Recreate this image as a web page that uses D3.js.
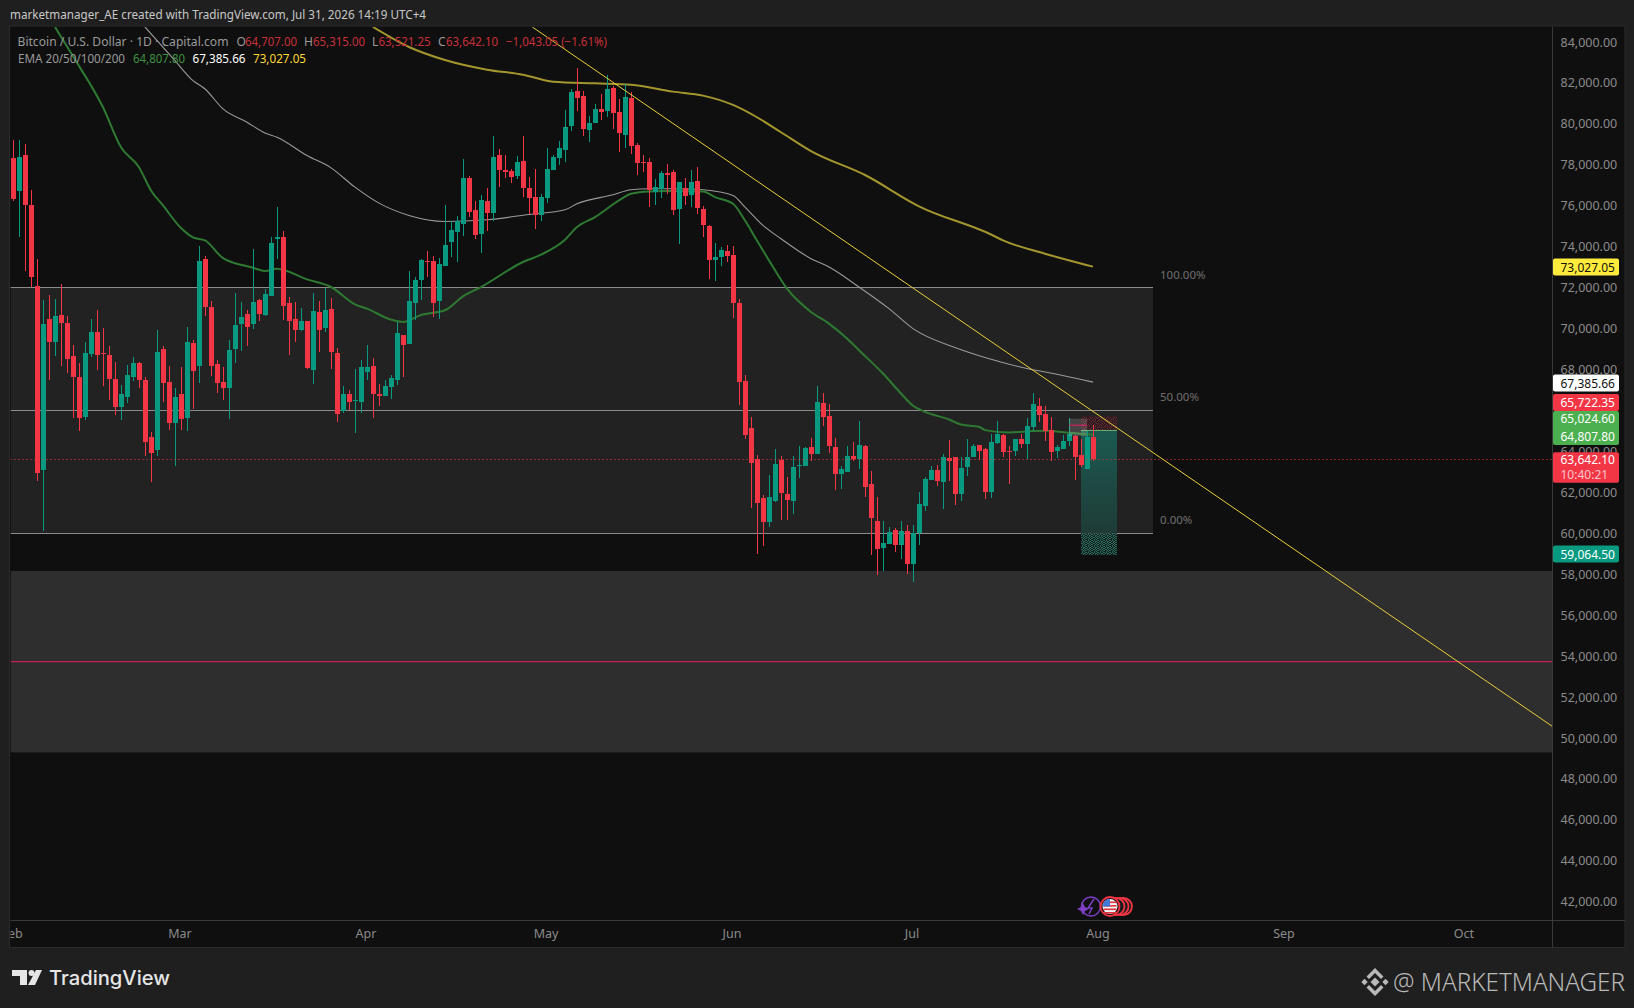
<!DOCTYPE html>
<html lang="en">
  <head>
    <meta charset="utf-8">
    <title>BTCUSD 1D</title>
    <style type="text/css">
      html, body{
        margin: 0;
        padding: 0;
        background: #1f1f1f;
        overflow: hidden;
      }
      svg{
        display: block;
      }
      text{
        font-family: "Noto Sans", "Open Sans", sans-serif;
      }
      .tick text{
        font-family: "Noto Sans", "Open Sans", sans-serif;
      }
    </style>
    <script src="https://cdn.jsdelivr.net/npm/d3@7"></script>
  </head>
  <body>
    <div id="chart"></div>

    <script type="text/javascript">
      //daily candles, starting at Feb 1
      var opens = [
        78325,76699,78504,76016,72065,63105,70455,69333,70650,70260,
        68650,67626,65674,68748,69821,68796,68699,67528,66162,66650,
        67626,68309,67480,64699,64065,68991,67382,65382,66796,65626,
        69284,68162,73382,71040,68260,67382,67089,68991,70211,70699,
        70211,71382,70650,71577,74357,74455,71235,70455,69918,70358,
        67967,70796,70016,70943,68796,65967,66796,66455,66406,67870,
        68162,66796,66699,67138,67480,69675,69235,71235,72357,73284,
        73284,71333,73040,74211,74699,75089,77333,75772,74601,76211,
        75626,78504,77772,77675,77431,78211,76845,76406,75528,76357,
        77772,78357,78748,79918,81626,81382,79723,80065,80748,80650,
        81772,80601,79479,81284,78992,78162,78162,76650,76796,77577,
        77626,75821,76845,76504,77187,75821,74992,73333,73479,73772,
        73577,71235,67431,65138,63626,61723,60553,61577,63577,61919,
        61577,63284,63284,64211,63870,66357,65723,64211,62894,62992,
        63772,63626,64260,62406,60601,59284,59479,60162,59431,60113,
        58504,60000,61333,62601,63089,62504,63675,63723,61919,63236,
        63723,64309,64114,62016,64406,64797,64016,64016,64601,64358,
        65187,66211,65821,65040,64016,64114,64504,64748,63821,63138,64707
      ];
      var highs = [
        79219,79219,79024,76780,73414,71382,71626,71431,72162,70601,
        69187,68309,69333,70455,70894,70016,69138,68357,67236,68211,
        68601,68357,67626,64943,69918,69138,68162,67089,68113,70065,
        69431,74016,73528,71333,68455,68113,69431,71723,71284,70894,
        73870,71431,71918,74455,75918,74748,71528,71284,70992,70358,
        71723,71333,71967,71479,69040,67187,66992,68016,68455,69187,
        68553,67284,67480,67723,70309,69675,72797,72504,73382,73772,
        73528,73431,76016,75235,75479,78309,77479,76211,76504,76845,
        79431,78796,78504,77821,78455,79431,77382,77821,76553,78845,
        78504,79187,80699,81723,82748,81626,80406,80992,81479,82406,
        81870,81235,81967,81577,79089,78504,78357,77284,77723,78065,
        77772,77138,77333,77772,77918,75967,75040,74162,73967,74065,
        74016,71431,67723,65674,63821,61870,62846,64114,63772,62748,
        63772,64260,64211,64650,67187,66846,66309,64650,63284,64260,
        64455,65479,64309,63040,61772,60601,60309,60260,60601,60406,
        60406,62016,62748,63284,63333,63870,64553,63723,63723,64601,
        64358,64309,64162,64845,65479,64845,64260,64601,64845,65626,
        66846,66601,66211,65674,64309,64797,65626,64797,64601,64991,65315
      ];
      var lows = [
        76211,74471,72813,72032,62569,60113,67480,68650,68162,67821,
        65626,64991,65528,68601,67967,67187,66504,65772,65528,66357,
        67431,67089,63772,62488,63772,66406,65040,63284,65040,64991,
        66065,67333,70601,67675,66846,66504,65577,68309,68894,69138,
        69967,70358,70601,71577,73382,70406,68699,69333,69870,68016,
        67284,68845,69821,68016,65431,65870,66016,64894,65870,67480,
        65626,66211,66699,66552,67236,67626,69235,70406,71382,72504,
        70553,70455,73040,73479,73235,74504,75431,74357,73675,74748,
        75235,76894,77333,77089,77284,76406,75577,74845,75235,76113,
        77772,78016,78162,79675,80650,79431,79138,80065,80211,80357,
        79772,78650,78845,78553,77528,77626,75918,76016,76357,76553,
        75528,74114,76016,75918,75577,74455,72406,72309,73040,73235,
        70504,66260,64602,61235,58992,59382,60309,61528,60650,60650,
        60943,62699,63284,63528,63870,65235,63918,62114,62162,62992,
        63528,63138,61772,58943,57967,58162,59479,59089,58748,58016,
        57626,59431,61089,62601,62309,61187,62553,61382,61577,62796,
        63723,63577,61675,61723,64358,63723,62406,63772,64162,63626,
        64991,65431,64504,63528,63675,64114,64260,62601,63236,63138,63521.25
      ];
      var closes = [
        76309,78406,76016,72504,62959,70211,69333,70601,70260,68504,
        67626,65626,68796,69821,68699,68748,67528,66162,66796,67723,
        68309,67480,64455,63918,68845,67333,65382,66650,65577,69333,
        67918,73284,71040,68162,67333,67089,68943,70162,70553,70065,
        71284,70699,71675,74162,74455,71089,70358,69918,70358,68065,
        70845,69918,70894,68845,65821,66796,66406,66504,68113,68113,
        66796,66699,67187,67577,69772,69187,71333,72357,73333,73235,
        71235,73138,74065,74796,75235,77333,75675,74553,76260,75626,
        78406,77772,77626,77382,78162,76845,76357,75528,76406,77821,
        78406,78845,79870,81577,81284,79772,80065,80748,80601,81723,
        80553,79577,81333,78943,78113,78113,76748,76894,77577,77528,
        75772,77138,76455,77138,75870,75040,73333,73479,73821,73528,
        71235,67382,64797,63431,61480,60553,61772,63382,61967,61626,
        63236,63333,64162,63870,66406,65674,64260,62894,63138,63772,
        63626,64309,62260,60748,59236,59528,60065,59431,60113,58504,
        60000,61431,62650,63089,62553,63723,63528,61919,63187,63723,
        64260,64016,62016,64455,64845,63967,63967,64601,64358,65235,
        66309,65772,64991,63967,64211,64504,64845,63723,63333,64707,63642.1
      ];

      //EMA curves: day number since Feb 1, then price
      var ema50Days = [7,10,15,18,21,23,25,28,30,32,35,40,42,44,49,53,57,59,63,65,68,72,75,78,85,88,92,94,97,101,103,106,109,115,117,120,122,124,126,129,133,136,139,141,145,148,150,152,156,158,161,162,166,170,172,176,180];
      var ema50Vals = [84734,83300,80813,78861,77886,76748,76016,74910,74455,74309,73447,72975,72813,72927,72406,72032,71187,70975,70439,70325,70667,70894,71577,72032,73252,73610,74341,74959,75447,76260,76585,76699,76716,76699,76423,76097,75284,74300,73333,71951,70813,70244,69512,68943,67805,66829,66228,65935,65561,65317,65203,65041,64927,64992,65008,64911,64807.8];
      var ema100Days = [22,27,30,32,35,39,42,44,49,53,57,61,66,72,79,86,92,94,100,103,106,111,115,120,122,125,128,133,136,141,146,150,157,162,169,174,180];
      var ema100Vals = [84734,83089,82113,81707,80731,80081,79560,79349,78455,77853,76910,76130,75528,75235,75316,75577,75805,76097,76536,76780,76829,76829,76780,76504,75935,75040,74390,73415,73008,72033,70976,70000,69073,68585,68049,67772,67385.66];
      var ema200Days = [60,66,72,79,85,90,97,103,110,115,120,124,128,133,142,151,163,165,172,180];
      var ema200Vals = [84734,83757,83121,82650,82406,82065,81983,81918,81577,81382,80926,80325,79593,78671,77503,75975,74597,74309,73659,73027.05];

      //yellow trend line
      var trendDays = [86.55, 256.55];
      var trendVals = [84734, 50570];

      //tick labels, 66,000 sits behind the price tags so it is not in the list
      var priceTicks = [42000,44000,46000,48000,50000,52000,54000,56000,58000,60000,62000,64000,68000,70000,72000,74000,76000,78000,80000,82000,84000];
      var monthTicks = [0,28,59,89,120,150,181,212,242];
      var monthNames = ["Feb","Mar","Apr","May","Jun","Jul","Aug","Sep","Oct"];

      //range box, zone and position levels
      var rangeLevels = [72000, 66000, 60000];
      var rangeLabels = ["100.00%", "50.00%", "0.00%"];
      var rangeEndDay = 190;
      var zoneTop = 58158;
      var zoneBottom = 49297;
      var zoneLine = 53727;
      var posDays = [178, 184];
      var stopPrice = 65722.35;
      var entryPrice = 65024.60;
      var targetPrice = 59064.50;
      var posBottom = 58950;

      var width = 1634;
      var height = 1008;
      var plot = {left: 10.5, right: 1552.5, top: 27, bottom: 920.5, axisBottom: 947.5, frameRight: 1625};

      var red = "#f23645";
      var green = "#089981";

      var xScale = d3.scaleLinear().domain([0, 257]).range([13, 13 + 257 * 6]);
      var yScale = d3.scaleLinear().domain([60000, 84000]).range([533.3, 533.3 - 24 * 20.47]);

      var svg = d3.select("#chart").append("svg")
        .attr("width", width)
        .attr("height", height);

      var defs = svg.append("defs");
      defs.append("clipPath").attr("id", "plotClip").append("rect")
        .attr("x", plot.left).attr("y", plot.top)
        .attr("width", plot.right - plot.left).attr("height", plot.bottom - plot.top);
      defs.append("clipPath").attr("id", "axisClip").append("rect")
        .attr("x", plot.left).attr("y", plot.bottom)
        .attr("width", plot.right - plot.left).attr("height", plot.axisBottom - plot.bottom);

      //dither used by the position tool where it is drawn on the dark bands
      function ditherPattern(id, base, color, cells){
        var p = defs.append("pattern").attr("id", id)
          .attr("width", 6).attr("height", 6)
          .attr("patternUnits", "userSpaceOnUse");
        p.append("rect").attr("width", 6).attr("height", 6).attr("fill", base);
        cells.forEach(c => {
          p.append("rect").attr("x", c[0]).attr("y", c[1])
            .attr("width", 1).attr("height", 1).attr("fill", color);
        });
      }
      ditherPattern("ditherGreen", "#10201d", "#2c6a5e",
        [[0,0],[2,0],[5,0],[1,1],[3,1],[4,1],[0,2],[3,2],[5,2],[1,3],[2,3],[4,3],[0,4],[3,4],[5,4],[2,5],[4,5]]);
      ditherPattern("ditherRed", "#2c1c1f", "#6a2a33",
        [[0,0],[3,0],[1,1],[5,1],[3,2],[0,3],[4,3],[2,4],[5,4],[1,5],[3,5]]);

      var posGradient = defs.append("linearGradient").attr("id", "posFill")
        .attr("x1", 0).attr("y1", 0).attr("x2", 0).attr("y2", 1);
      posGradient.append("stop").attr("offset", 0).attr("stop-color", "#1b5a50");
      posGradient.append("stop").attr("offset", 1).attr("stop-color", "#1f3b37");

      //frame and panels
      svg.append("rect").attr("width", width).attr("height", height).attr("fill", "#1f1f1f");
      svg.append("rect")
        .attr("x", plot.left - 1).attr("y", plot.top - 1)
        .attr("width", plot.frameRight - plot.left + 1).attr("height", plot.axisBottom - plot.top + 1)
        .attr("fill", "#0f0f0f")
        .attr("stroke", "#2b2b2b");

      var chart = svg.append("g").attr("clip-path", "url(#plotClip)");

      //grey zone with its pink line
      chart.append("rect")
        .attr("x", plot.left).attr("width", plot.right - plot.left)
        .attr("y", yScale(zoneTop)).attr("height", yScale(zoneBottom) - yScale(zoneTop))
        .attr("fill", "#2e2e2e");
      chart.append("line")
        .attr("x1", plot.left).attr("x2", plot.right)
        .attr("y1", yScale(zoneLine)).attr("y2", yScale(zoneLine))
        .attr("stroke", "#e91e63");

      //fib range box
      chart.append("rect")
        .attr("x", plot.left).attr("width", xScale(rangeEndDay) - plot.left)
        .attr("y", yScale(rangeLevels[0])).attr("height", yScale(rangeLevels[2]) - yScale(rangeLevels[0]))
        .attr("fill", "#222222");
      chart.selectAll(".rangeLine")
        .data(rangeLevels)
        .enter()
        .append("line")
        .attr("class", "rangeLine")
        .attr("x1", plot.left).attr("x2", xScale(rangeEndDay))
        .attr("y1", d => Math.floor(yScale(d)) + 0.5)
        .attr("y2", d => Math.floor(yScale(d)) + 0.5)
        .attr("stroke", "#8c8c8c");
      chart.selectAll(".rangeLabel")
        .data(rangeLevels)
        .enter()
        .append("text")
        .attr("class", "rangeLabel")
        .attr("x", xScale(rangeEndDay) + 7)
        .attr("y", d => yScale(d) - 9)
        .attr("fill", "#6f6f6f")
        .style("font-size", "11.5px")
        .text((d, i) => rangeLabels[i]);

      //position tool
      var posX = xScale(posDays[0]);
      var posW = xScale(posDays[1]) - posX;
      chart.append("rect").attr("x", posX).attr("width", posW)
        .attr("y", yScale(stopPrice)).attr("height", yScale(entryPrice) - yScale(stopPrice))
        .attr("fill", "url(#ditherRed)");
      chart.append("rect").attr("x", posX).attr("width", posW)
        .attr("y", yScale(entryPrice)).attr("height", yScale(rangeLevels[2]) - yScale(entryPrice))
        .attr("fill", "url(#posFill)");
      chart.append("rect").attr("x", posX).attr("width", posW)
        .attr("y", yScale(rangeLevels[2])).attr("height", yScale(posBottom) - yScale(rangeLevels[2]))
        .attr("fill", "url(#ditherGreen)");
      chart.append("line")
        .attr("x1", posX).attr("x2", posX + posW)
        .attr("y1", yScale(entryPrice)).attr("y2", yScale(entryPrice))
        .attr("stroke", "#6fae6f");

      //EMA lines
      function emaLine(days, vals, color, lineWidth){
        var line = d3.line()
          .x((d, i) => xScale(days[i]))
          .y(d => yScale(d))
          .curve(d3.curveMonotoneX);
        chart.append("path")
          .attr("d", line(vals))
          .attr("fill", "none")
          .attr("stroke", color)
          .attr("stroke-width", lineWidth);
      }
      emaLine(ema100Days, ema100Vals, "#9a9a9a", 1.1);
      emaLine(ema50Days, ema50Vals, "#2e7a32", 2);
      emaLine(ema200Days, ema200Vals, "#a3962e", 2);

      //candles
      var candles = chart.append("g").attr("shape-rendering", "crispEdges");
      candles.selectAll(".wick")
        .data(opens)
        .enter()
        .append("rect")
        .attr("class", "wick")
        .attr("x", (d, i) => Math.round(xScale(i)) - 0.5)
        .attr("width", 1)
        .attr("y", (d, i) => yScale(highs[i]))
        .attr("height", (d, i) => yScale(lows[i]) - yScale(highs[i]))
        .attr("fill", (d, i) => closes[i] >= d ? green : red);
      candles.selectAll(".body")
        .data(opens)
        .enter()
        .append("rect")
        .attr("class", "body")
        .attr("x", (d, i) => Math.round(xScale(i)) - 2.5)
        .attr("width", 5)
        .attr("y", (d, i) => yScale(Math.max(d, closes[i])))
        .attr("height", (d, i) => Math.max(1, Math.abs(yScale(d) - yScale(closes[i]))))
        .attr("fill", (d, i) => closes[i] >= d ? green : red);

      //small grey marker on the left of the position
      chart.append("rect").attr("x", xScale(176)).attr("width", xScale(179) - xScale(176))
        .attr("y", yScale(65600)).attr("height", yScale(64750) - yScale(65600))
        .attr("fill", "#ffffff").attr("opacity", 0.16);
      chart.append("line").attr("x1", xScale(176)).attr("x2", xScale(179))
        .attr("y1", yScale(65280)).attr("y2", yScale(65280))
        .attr("stroke", "#e91e63");

      //current price dotted line
      var lastY = Math.round(yScale(closes[closes.length - 1])) + 0.5;
      chart.append("line")
        .attr("x1", plot.left).attr("x2", plot.right)
        .attr("y1", lastY).attr("y2", lastY)
        .attr("stroke", red)
        .attr("stroke-dasharray", "1 3");

      //trend line
      chart.append("line")
        .attr("x1", xScale(trendDays[0])).attr("x2", xScale(trendDays[1]))
        .attr("y1", yScale(trendVals[0])).attr("y2", yScale(trendVals[1]))
        .attr("stroke", "#e8cf3a");

      //event markers above the time axis
      var events = svg.append("g");
      [1123.5, 1120, 1116].forEach(x => {
        events.append("circle").attr("cx", x).attr("cy", 906.5).attr("r", 8.5)
          .attr("fill", "#1a1a1a").attr("stroke", red).attr("stroke-width", 1.8);
      });
      events.append("circle").attr("cx", 1091).attr("cy", 906.5).attr("r", 9.5)
        .attr("fill", "none").attr("stroke", "#7e3fc4").attr("stroke-width", 1.5);
      events.append("path").attr("d", "M1094 899 L1088 908 L1092 908 L1089 914")
        .attr("fill", "none").attr("stroke", "#7e3fc4").attr("stroke-width", 1.5);
      events.append("path").attr("d", "M1083 903 L1085 907 L1089 909 L1085 911 L1083 915 L1081 911 L1077 909 L1081 907 Z")
        .attr("fill", "#7e3fc4");
      events.append("circle").attr("cx", 1110).attr("cy", 906.5).attr("r", 9.5)
        .attr("fill", "#111").attr("stroke", red).attr("stroke-width", 1.8);
      events.append("circle").attr("cx", 1110).attr("cy", 906.5).attr("r", 7.5).attr("fill", "#f4f4f4");
      [901.5, 905, 908.5, 912].forEach(y => {
        events.append("rect").attr("x", 1103.5).attr("y", y).attr("width", 13).attr("height", 1.6).attr("fill", "#e0343f");
      });
      events.append("path").attr("d", "M1103.5 903 A7.5 7.5 0 0 1 1110 899 L1110 906.5 L1102.6 906.5 Z").attr("fill", "#3f78d8");

      //axes
      svg.append("line").attr("x1", plot.right).attr("x2", plot.right)
        .attr("y1", plot.top).attr("y2", plot.axisBottom).attr("stroke", "#3a3a3a");
      svg.append("line").attr("x1", plot.left).attr("x2", plot.frameRight)
        .attr("y1", plot.bottom).attr("y2", plot.bottom).attr("stroke", "#3a3a3a");

      var yAxis = svg.append("g")
        .attr("transform", "translate(" + plot.right + ",0)")
        .call(d3.axisRight(yScale).tickValues(priceTicks).tickSize(0).tickPadding(8).tickFormat(d3.format(",.2f")));
      yAxis.select(".domain").remove();
      yAxis.selectAll("text").attr("fill", "#8b8b8b").style("font-size", "12.5px");

      var xAxis = svg.append("g")
        .attr("clip-path", "url(#axisClip)")
        .append("g")
        .attr("transform", "translate(-1.5," + plot.bottom + ")")
        .call(d3.axisBottom(xScale).tickValues(monthTicks).tickSize(0).tickPadding(9).tickFormat((d, i) => monthNames[i]));
      xAxis.select(".domain").remove();
      xAxis.selectAll("text").attr("fill", "#8b8b8b").style("font-size", "12.5px");

      //price labels on the axis
      var fmt = d3.format(",.2f");
      function priceTag(y, h, color){
        svg.append("rect")
          .attr("x", plot.right + 0.5).attr("y", y - h / 2)
          .attr("width", 66).attr("height", h)
          .attr("rx", 2)
          .attr("fill", color);
      }
      function tagText(y, s, color){
        svg.append("text")
          .attr("x", plot.right + 8).attr("y", y)
          .attr("fill", color)
          .style("font-size", "12px")
          .text(s);
      }
      priceTag(267, 17, "#ffeb3b");
      tagText(271.5, fmt(ema200Vals[ema200Vals.length - 1]), "#111");
      priceTag(383, 17, "#ffffff");
      tagText(387.5, fmt(ema100Vals[ema100Vals.length - 1]), "#111");
      priceTag(402.5, 17, red);
      tagText(407, fmt(stopPrice), "#fff");
      priceTag(428, 34, "#4caf50");
      tagText(423, fmt(entryPrice), "#fff");
      tagText(441, fmt(ema50Vals[ema50Vals.length - 1]), "#fff");
      priceTag(467.5, 30.5, red);
      tagText(464, fmt(closes[closes.length - 1]), "#fff");
      tagText(478.5, "10:40:21", "#f9c4c9");
      priceTag(554, 17, green);
      tagText(558.5, fmt(targetPrice), "#fff");

      //header and legend
      function label(x, y, s, color, size, len){
        var t = svg.append("text")
          .attr("x", x).attr("y", y)
          .attr("fill", color)
          .style("font-size", size + "px")
          .text(s);
        if(len){
          t.attr("textLength", len).attr("lengthAdjust", "spacingAndGlyphs");
        }
        return t;
      }
      label(10, 18.5, "marketmanager_AE created with TradingView.com, Jul 31, 2026 14:19 UTC+4", "#c8c8c8", 12, 416);

      label(17.5, 46, "Bitcoin / U.S. Dollar · 1D · Capital.com", "#9a9a9a", 12, 211);
      var ohlcGrey = "#9a9a9a";
      var ohlcRed = "#c92f3b";
      label(236.5, 46, "O", ohlcGrey, 12);
      label(245, 46, "64,707.00", ohlcRed, 12, 52);
      label(304, 46, "H", ohlcGrey, 12);
      label(313, 46, "65,315.00", ohlcRed, 12, 52);
      label(372, 46, "L", ohlcGrey, 12);
      label(378.5, 46, "63,521.25", ohlcRed, 12, 52);
      label(438, 46, "C", ohlcGrey, 12);
      label(446, 46, "63,642.10", ohlcRed, 12, 52);
      label(506, 46, "−1,043.05 (−1.61%)", ohlcRed, 12, 101);
      label(18, 63, "EMA 20/50/100/200", "#9a9a9a", 12, 107);
      label(133, 63, "64,807.80", "#3e9142", 12, 52);
      label(192.5, 63, "67,385.66", "#ffffff", 12, 53);
      label(253, 63, "73,027.05", "#fdd835", 12, 53);

      //TradingView logo
      var logo = svg.append("g").attr("fill", "#e6e6e6");
      logo.append("path").attr("d", "M12 970 H27 V985 H20 V976 H12 Z");
      logo.append("circle").attr("cx", 31.5).attr("cy", 973).attr("r", 3);
      logo.append("path").attr("d", "M36 970 H42 L35 985 H28 Z");
      label(49, 984.5, "TradingView", "#e6e6e6", 20, 121).style("font-family", "Inter").style("font-weight", 500);

      //bottom right watermark, binance style mark
      var mark = svg.append("g").attr("fill", "#b9b9b9");
      function diamond(cx, cy, r){
        mark.append("path").attr("d", "M" + (cx - r) + " " + cy + " L" + cx + " " + (cy - r) + " L" + (cx + r) + " " + cy + " L" + cx + " " + (cy + r) + " Z");
      }
      diamond(1375, 982, 4.5);
      diamond(1364.5, 982, 3.2);
      diamond(1385.5, 982, 3.2);
      mark.append("path").attr("d", "M1375 968 L1383.5 976.5 L1381 979 L1375 973 L1369 979 L1366.5 976.5 Z");
      mark.append("path").attr("d", "M1375 996 L1383.5 987.5 L1381 985 L1375 991 L1369 985 L1366.5 987.5 Z");
      label(1393, 991, "@ MARKETMANAGER", "#b9b9b9", 25, 232).style("font-weight", 300);
    </script>
  </body>
</html>
